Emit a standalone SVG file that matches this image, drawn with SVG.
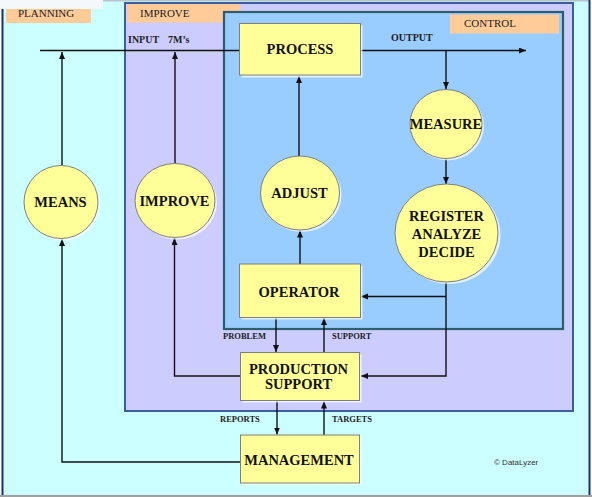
<svg xmlns="http://www.w3.org/2000/svg" width="592" height="497" viewBox="0 0 592 497">
<defs>
<style>
.box{fill:#FFFF99;stroke:#7F7F7F;stroke-width:1}
.shadow{fill:#FFFFFF;opacity:0.7}
.big{font-family:"Liberation Serif","Times New Roman",serif;font-weight:bold;font-size:14.5px;fill:#111;text-anchor:middle}
.small{font-family:"Liberation Serif","Times New Roman",serif;font-weight:bold;font-size:8.5px;fill:#222}
.mid{font-family:"Liberation Serif","Times New Roman",serif;font-weight:bold;font-size:10px;fill:#222}
.hdr{font-family:"Liberation Serif","Times New Roman",serif;font-size:11px;fill:#222}
.tag{fill:#FFCC99}
.conn{fill:none;stroke:#111;stroke-width:1.4}
</style>
<marker id="ah" markerUnits="userSpaceOnUse" markerWidth="8" markerHeight="7" refX="7" refY="3" orient="auto">
<path d="M0,0 L7,3 L0,6 z" fill="#111"/>
</marker>
<clipPath id="clipPlan"><rect x="0" y="9" width="120" height="20"/></clipPath>
</defs>

<g id="background">
<rect x="0" y="0" width="592" height="497" fill="#FFFFFF"/>
<rect x="2" y="0" width="588" height="495" fill="#CCFFFF"/>
<rect x="0" y="0" width="103" height="9" fill="#F4F8FA"/>
<line x1="103" y1="0.8" x2="590" y2="0.8" stroke="#B8C4CC" stroke-width="1.5"/>
<line x1="2.5" y1="9" x2="2.5" y2="495" stroke="#1F2F6F" stroke-width="2"/>
<line x1="589.5" y1="0" x2="589.5" y2="495" stroke="#1F2F6F" stroke-width="2"/>
<line x1="0" y1="496" x2="592" y2="496" stroke="#A0A0A0" stroke-width="2"/>
</g>

<g id="planning-region">
<rect class="tag" x="6" y="9" width="85" height="14"/>
<text class="hdr" x="18" y="17" clip-path="url(#clipPlan)">PLANNING</text>
</g>

<g id="improve-region">
<rect x="125" y="3" width="448" height="408" fill="#CCCCFF" stroke="#3D5E9E" stroke-width="2"/>
<rect class="tag" x="127" y="4" width="113" height="18.5"/>
<text class="hdr" x="140" y="17">IMPROVE</text>
</g>

<g id="control-region">
<rect x="224" y="12" width="339" height="317" fill="#99CCFF" stroke="#2E5E6A" stroke-width="2.2"/>
<rect class="tag" x="450" y="14.5" width="109" height="19"/>
<text class="hdr" x="464" y="27">CONTROL</text>
</g>

<g id="connectors">
<path class="conn" d="M40,50.5 H239"/>
<path class="conn" d="M62,165 V52" marker-end="url(#ah)"/>
<path class="conn" d="M175,163 V52" marker-end="url(#ah)"/>
<path class="conn" d="M361,50.5 H526" marker-end="url(#ah)"/>
<path class="conn" d="M446,50.5 V89" marker-end="url(#ah)"/>
<path class="conn" d="M446,158 V184" marker-end="url(#ah)"/>
<path class="conn" d="M446,282 V376 H361" marker-end="url(#ah)"/>
<path class="conn" d="M446,296.5 H361" marker-end="url(#ah)"/>
<path class="conn" d="M299,156 V76" marker-end="url(#ah)"/>
<path class="conn" d="M300,264 V230.5" marker-end="url(#ah)"/>
<path class="conn" d="M276,317.5 V352" marker-end="url(#ah)"/>
<path class="conn" d="M324,352 V318" marker-end="url(#ah)"/>
<path class="conn" d="M240,376 H174.5 V238" marker-end="url(#ah)"/>
<path class="conn" d="M277,401 V434.5" marker-end="url(#ah)"/>
<path class="conn" d="M324,435 V401.5" marker-end="url(#ah)"/>
<path class="conn" d="M240,462 H62 V239" marker-end="url(#ah)"/>
<text class="mid" x="128" y="42.5">INPUT</text>
<text class="mid" x="168" y="42.5">7M’s</text>
<text class="mid" x="391" y="41">OUTPUT</text>
<text class="small" x="223" y="339">PROBLEM</text>
<text class="small" x="332" y="339">SUPPORT</text>
<text class="small" x="220" y="422">REPORTS</text>
<text class="small" x="332" y="422">TARGETS</text>
</g>

<g id="process">
<rect class="shadow" x="241.5" y="25.5" width="121" height="52"/>
<rect class="box" x="239.5" y="23.5" width="121" height="51.5"/>
<text class="big" x="300" y="54">PROCESS</text>
</g>

<g id="measure">
<ellipse class="shadow" cx="448" cy="126" rx="36" ry="34.5"/>
<ellipse class="box" cx="446" cy="124" rx="36" ry="34.5"/>
<text class="big" x="446" y="128.5">MEASURE</text>
</g>

<g id="register-analyze-decide">
<ellipse class="shadow" cx="449" cy="235" rx="51.5" ry="49"/>
<ellipse class="box" cx="446.5" cy="233" rx="51.5" ry="49"/>
<text class="big" x="446.5" y="221">REGISTER</text>
<text class="big" x="446.5" y="239">ANALYZE</text>
<text class="big" x="446.5" y="256.5">DECIDE</text>
</g>

<g id="adjust">
<ellipse class="shadow" cx="302" cy="195" rx="39.5" ry="37"/>
<ellipse class="box" cx="300" cy="193" rx="39.5" ry="37"/>
<text class="big" x="299.5" y="197.5">ADJUST</text>
</g>

<g id="means">
<ellipse class="shadow" cx="63" cy="204" rx="37" ry="36.5"/>
<ellipse class="box" cx="61" cy="202" rx="37" ry="36.5"/>
<text class="big" x="60.5" y="206.5">MEANS</text>
</g>

<g id="improve">
<ellipse class="shadow" cx="177" cy="202.5" rx="40" ry="37"/>
<ellipse class="box" cx="175" cy="200.5" rx="40" ry="37"/>
<text class="big" x="174.5" y="205.5">IMPROVE</text>
</g>

<g id="operator">
<rect class="shadow" x="241.5" y="266" width="121" height="53.5"/>
<rect class="box" x="239.5" y="264" width="121" height="53.5"/>
<text class="big" x="299" y="296.5">OPERATOR</text>
</g>

<g id="production-support">
<rect class="shadow" x="242.5" y="354.5" width="119" height="48"/>
<rect class="box" x="240.5" y="352.5" width="119" height="48"/>
<text class="big" x="298.5" y="374">PRODUCTION</text>
<text class="big" x="298.5" y="389">SUPPORT</text>
</g>

<g id="management">
<rect class="shadow" x="242.5" y="437" width="119" height="48"/>
<rect class="box" x="240.5" y="435" width="119" height="48"/>
<text class="big" x="299" y="465">MANAGEMENT</text>
</g>

<text x="494" y="465" font-family="'Liberation Sans',Arial,sans-serif" font-size="8px" fill="#333">© DataLyzer</text>
</svg>
